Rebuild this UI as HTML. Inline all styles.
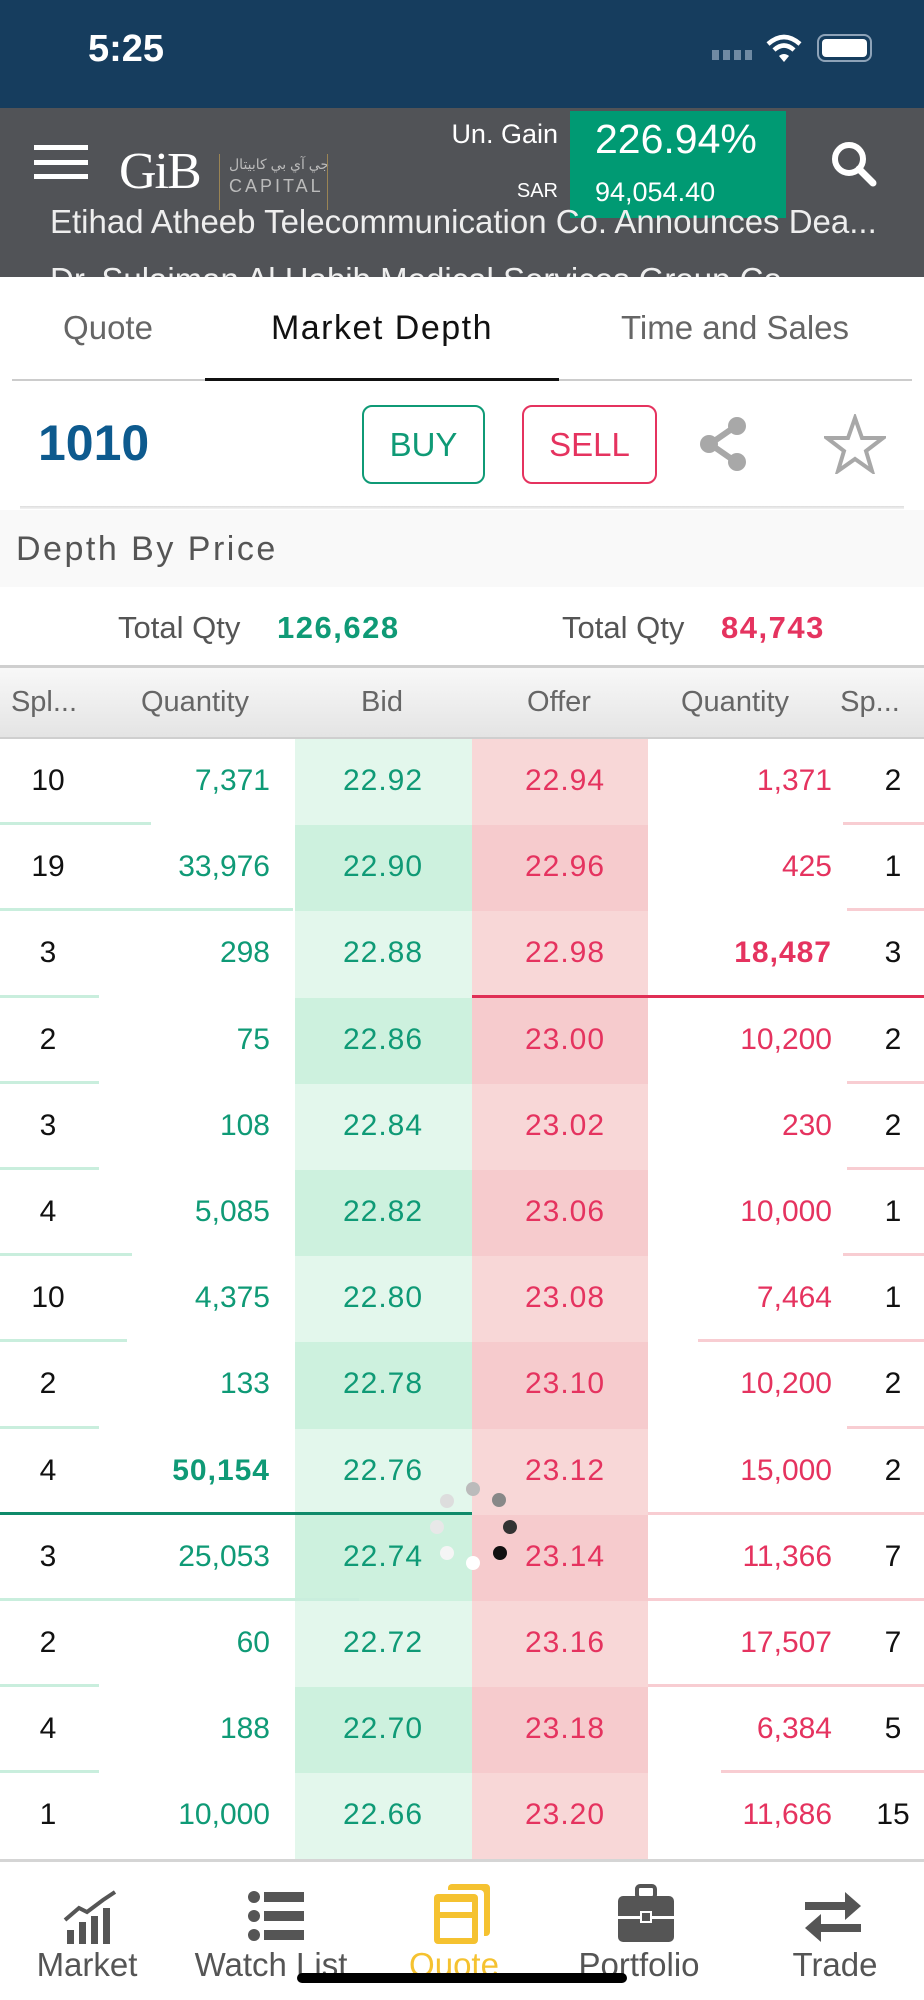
<!DOCTYPE html>
<html><head><meta charset="utf-8">
<style>
*{margin:0;padding:0;box-sizing:border-box}
body{width:924px;height:2000px;position:relative;overflow:hidden;background:#fff;font-family:"Liberation Sans","Noto Sans CJK SC",sans-serif}
.a{position:absolute}
.t{position:absolute;white-space:nowrap}
</style></head><body>
<div class="a" style="left:0;top:0;width:924px;height:108px;background:#163d5e">
  <div class="t" style="left:88px;top:28px;font-size:38px;font-weight:bold;color:#fff">5:25</div>
  <div class="a" style="left:712px;top:50px;width:42px;height:10px;background:repeating-linear-gradient(90deg,#6f8aa3 0 7px,transparent 7px 11px)"></div>
  <svg class="a" style="left:766px;top:34px" width="36" height="30" viewBox="0 0 36 30"><path d="M2 10 Q18 -4 34 10" stroke="#fff" stroke-width="4.5" fill="none"/><path d="M8 16 Q18 7 28 16" stroke="#fff" stroke-width="4.5" fill="none"/><path d="M13 22 L18 28 L23 22 Q18 18 13 22Z" fill="#fff"/></svg>
  <div class="a" style="left:817px;top:34px;width:55px;height:28px;border:2.5px solid #8ea3b8;border-radius:8px;padding:3px"><div style="width:100%;height:100%;background:#fff;border-radius:4px"></div></div>
</div>
<div class="a" style="left:0;top:108px;width:924px;height:169px;background:#515357;overflow:hidden">
  <div class="a" style="left:34px;top:37px;width:54px;height:34px;border-top:5px solid #fff;border-bottom:5px solid #fff"><div style="margin-top:10px;height:5px;background:#fff"></div></div>
  <div class="t" style="left:119px;top:34px;font-family:'Liberation Serif',serif;font-size:52px;color:#fff;letter-spacing:-2px">GiB</div>
  <div class="a" style="left:219px;top:46px;width:1px;height:56px;background:#9a8454"></div>
  <div class="t" style="left:229px;top:48px;font-size:14px;color:#bbb">جي آي بي كابيتال</div>
  <div class="t" style="left:229px;top:68px;font-size:18px;color:#bbb;letter-spacing:3px">CAPITAL</div>
  <div class="a" style="left:327px;top:46px;width:1px;height:56px;background:#9a8454"></div>
  <div class="t" style="right:366px;top:11px;font-size:27px;color:#fff">Un. Gain</div>
  <div class="t" style="right:366px;top:72px;font-size:20px;color:#fff">SAR</div>
  <div class="a" style="left:570px;top:3px;width:216px;height:107px;background:#009a73">
    <div class="t" style="left:25px;top:5px;font-size:41px;color:#fff">226.94%</div>
    <div class="t" style="left:25px;top:66px;font-size:27px;color:#fff">94,054.40</div>
  </div>
  <svg class="a" style="left:830px;top:32px" width="48" height="48" viewBox="0 0 48 48"><circle cx="19" cy="19" r="14" stroke="#fff" stroke-width="6" fill="none"/><line x1="29" y1="29" x2="43" y2="43" stroke="#fff" stroke-width="7" stroke-linecap="round"/></svg>
  <div class="t" style="left:50px;top:95px;font-size:33px;color:#eee">Etihad Atheeb Telecommunication Co. Announces Dea...</div>
  <div class="t" style="left:50px;top:153px;font-size:33px;color:#eee">Dr. Sulaiman Al Habib Medical Services Group Co...</div>
</div>
<div class="a" style="left:0;top:277px;width:924px;height:105px;background:#fff">
  <div class="t" style="left:108px;top:32px;transform:translateX(-50%);font-size:33px;color:#666">Quote</div>
  <div class="t" style="left:382px;top:32px;transform:translateX(-50%);font-size:34px;color:#111;letter-spacing:1.5px">Market Depth</div>
  <div class="t" style="left:735px;top:32px;transform:translateX(-50%);font-size:33px;color:#666">Time and Sales</div>
  <div class="a" style="left:12px;top:102px;width:900px;height:2px;background:#ccc"></div>
  <div class="a" style="left:205px;top:101px;width:354px;height:3px;background:#111"></div>
</div>
<div class="t" style="left:38px;top:414px;font-size:50px;font-weight:bold;color:#0d5a8e">1010</div>
<div class="a" style="left:362px;top:405px;width:123px;height:79px;border:2px solid #0f9a76;border-radius:10px;color:#0f9a76;font-size:33px;text-align:center;line-height:75px">BUY</div>
<div class="a" style="left:522px;top:405px;width:135px;height:79px;border:2px solid #e5335f;border-radius:10px;color:#e5335f;font-size:33px;text-align:center;line-height:75px">SELL</div>
<svg class="a" style="left:698px;top:416px" width="52" height="56" viewBox="0 0 52 56"><line x1="38" y1="10" x2="12" y2="28" stroke="#a8a8a8" stroke-width="6"/><line x1="12" y1="28" x2="38" y2="46" stroke="#a8a8a8" stroke-width="6"/><circle cx="39" cy="10" r="9" fill="#a8a8a8"/><circle cx="11" cy="28" r="9" fill="#a8a8a8"/><circle cx="39" cy="46" r="9" fill="#a8a8a8"/></svg>
<svg class="a" style="left:824px;top:414px" width="62" height="60" viewBox="0 0 62 60"><polygon points="31,4 38,24 59,24 42,37 48,57 31,45 14,57 20,37 3,24 24,24" fill="none" stroke="#a8a8a8" stroke-width="4"/></svg>
<div class="a" style="left:20px;top:506px;width:884px;height:3px;background:linear-gradient(#ddd,#f3f3f3)"></div>
<div class="a" style="left:0;top:510px;width:924px;height:77px;background:#f9f9f9">
  <div class="t" style="left:16px;top:20px;font-size:34px;color:#555;letter-spacing:2.5px">Depth By Price</div>
</div>
<div class="t" style="left:118px;top:610px;font-size:31px;color:#555">Total Qty</div>
<div class="t" style="left:277px;top:610px;font-size:31px;font-weight:bold;color:#0f9a76;letter-spacing:1.5px">126,628</div>
<div class="t" style="left:562px;top:610px;font-size:31px;color:#555">Total Qty</div>
<div class="t" style="left:721px;top:610px;font-size:31px;font-weight:bold;color:#e5335f;letter-spacing:1.5px">84,743</div>
<div class="a" style="left:0;top:665px;width:924px;height:74px;background:linear-gradient(#f8f8f8,#e4e4e4);border-top:3px solid #cfcfcf;border-bottom:2px solid #cfcfcf;font-size:29px;color:#666">
  <div class="t" style="left:44px;top:18px;transform:translateX(-50%)">Spl...</div>
  <div class="t" style="left:195px;top:18px;transform:translateX(-50%)">Quantity</div>
  <div class="t" style="left:382px;top:18px;transform:translateX(-50%)">Bid</div>
  <div class="t" style="left:559px;top:18px;transform:translateX(-50%)">Offer</div>
  <div class="t" style="left:735px;top:18px;transform:translateX(-50%)">Quantity</div>
  <div class="t" style="left:870px;top:18px;transform:translateX(-50%)">Sp...</div>
</div>
<div class="a" id="rows" style="left:0;top:739px;width:924px;height:1121px"></div>
<svg class="a" style="left:425px;top:1475px" width="100" height="100" viewBox="0 0 100 100">
<circle cx="48" cy="14" r="7" fill="#bbb"/><circle cx="74" cy="25" r="7" fill="#888"/><circle cx="85" cy="52" r="7" fill="#333"/><circle cx="75" cy="78" r="7" fill="#111"/><circle cx="48" cy="88" r="7" fill="#fff"/><circle cx="22" cy="78" r="7" fill="#f5f5f5"/><circle cx="12" cy="52" r="7" fill="#e8e8e8"/><circle cx="22" cy="26" r="7" fill="#ddd"/></svg>
<div class="a" style="left:0;top:1859px;width:924px;height:141px;background:#fff;border-top:3px solid #d5d5d5">
  <svg class="a" style="left:63px;top:28px" width="56" height="56" viewBox="0 0 56 56"><polyline points="2,30 16,18 24,22 40,10 52,2" fill="none" stroke="#555" stroke-width="4"/><rect x="4" y="40" width="7" height="14" fill="#555"/><rect x="16" y="32" width="7" height="22" fill="#555"/><rect x="28" y="26" width="7" height="28" fill="#555"/><rect x="40" y="18" width="7" height="36" fill="#555"/></svg>
  <div class="t" style="left:87px;top:84px;transform:translateX(-50%);font-size:33px;color:#555">Market</div>
  <svg class="a" style="left:248px;top:28px" width="58" height="52" viewBox="0 0 58 52"><circle cx="6" cy="7" r="6" fill="#555"/><circle cx="6" cy="26" r="6" fill="#555"/><circle cx="6" cy="45" r="6" fill="#555"/><rect x="16" y="2" width="40" height="10" fill="#555"/><rect x="16" y="21" width="40" height="10" fill="#555"/><rect x="16" y="40" width="40" height="10" fill="#555"/></svg>
  <div class="t" style="left:271px;top:84px;transform:translateX(-50%);font-size:33px;color:#555">Watch List</div>
  <svg class="a" style="left:432px;top:20px" width="60" height="64" viewBox="0 0 60 64"><rect x="16" y="2" width="42" height="52" rx="4" fill="#f5c230"/><rect x="10" y="8" width="42" height="52" rx="4" fill="#fff"/><rect x="2" y="12" width="44" height="50" rx="4" fill="#f5c230"/><rect x="8" y="20" width="32" height="10" fill="#fff"/><rect x="8" y="36" width="32" height="20" fill="#fff"/></svg>
  <div class="t" style="left:454px;top:84px;transform:translateX(-50%);font-size:33px;color:#f5c230">Quote</div>
  <svg class="a" style="left:617px;top:22px" width="58" height="60" viewBox="0 0 58 60"><rect x="20" y="2" width="18" height="12" rx="3" fill="none" stroke="#555" stroke-width="4"/><rect x="1" y="12" width="56" height="46" rx="5" fill="#555"/><rect x="1" y="32" width="56" height="3" fill="#fff"/><rect x="24" y="28" width="10" height="10" fill="#555" stroke="#fff" stroke-width="2"/></svg>
  <div class="t" style="left:639px;top:84px;transform:translateX(-50%);font-size:33px;color:#555">Portfolio</div>
  <svg class="a" style="left:803px;top:28px" width="60" height="54" viewBox="0 0 60 54"><rect x="2" y="12" width="44" height="8" fill="#555"/><polygon points="42,2 58,16 42,30" fill="#555"/><rect x="14" y="34" width="44" height="8" fill="#555"/><polygon points="18,24 2,38 18,52" fill="#555"/></svg>
  <div class="t" style="left:835px;top:84px;transform:translateX(-50%);font-size:33px;color:#555">Trade</div>
  <div class="a" style="left:297px;top:111px;width:330px;height:10px;border-radius:5px;background:#000"></div>
</div>
<script>
const bidSplits=[10,19,3,2,3,4,10,2,4,3,2,4,1];
const bidQty=["7,371","33,976","298","75","108","5,085","4,375","133","50,154","25,053","60","188","10,000"];
const bidPrice=["22.92","22.90","22.88","22.86","22.84","22.82","22.80","22.78","22.76","22.74","22.72","22.70","22.66"];
const askPrice=["22.94","22.96","22.98","23.00","23.02","23.06","23.08","23.10","23.12","23.14","23.16","23.18","23.20"];
const askQty=["1,371","425","18,487","10,200","230","10,000","7,464","10,200","15,000","11,366","17,507","6,384","11,686"];
const askSplits=[2,1,3,2,2,1,1,2,2,7,7,5,15];
const bidDepth=[0.32,0.62,0.21,0.21,0.21,0.28,0.27,0.21,1.0,0.76,0.21,0.21,0];
const askDepth=[0.18,0.17,1.0,0.17,0.17,0.18,0.50,0.17,0.61,0.61,0.61,0.45,0];
const boldBid=8, boldAsk=2;
const rows=document.getElementById('rows');
const RH=86.2, BIDW=472, ASKW=452;
const green="#0f9a76", red="#e5335f";
function cell(parent,name,css,text){const d=document.createElement('div');


d.className='t';d.style.cssText=css;d.textContent=text;parent.appendChild(d);return d;}
for(let i=0;i<bidPrice.length;i++){
  const r=document.createElement('div');
  
  
  r.className='a';r.style.cssText=`left:0;top:${i*RH}px;width:924px;height:${RH}px`;
  const odd=i%2===1;
  const bb=document.createElement('div');
  
  
  bb.className='a';bb.style.cssText=`left:295px;top:0;width:177px;height:${RH+1}px;background:${odd?'#cdf1de':'#e3f7ec'}`;r.appendChild(bb);
  const ob=document.createElement('div');
  
  
  ob.className='a';ob.style.cssText=`left:472px;top:0;width:176px;height:${RH+1}px;background:${odd?'#f6cbcd':'#f8d7d7'}`;r.appendChild(ob);
  if(bidDepth[i]>0){const l=document.createElement('div');
    
    
    const strong=i===boldBid;
    l.className='a';l.style.cssText=`left:0;top:${RH-3}px;width:${bidDepth[i]*BIDW}px;height:3px;background:${strong?'#0f8a6a':'#c9eedd'}`;r.appendChild(l);}
  if(askDepth[i]>0){const l=document.createElement('div');
    
    
    const strong=i===boldAsk;
    l.className='a';l.style.cssText=`right:0;top:${RH-3}px;width:${askDepth[i]*ASKW}px;height:3px;background:${strong?'#e02f55':'#f8cdd2'}`;r.appendChild(l);}
  const ty=25, fs='font-size:30px;';
  cell(r,'bid-splits',`${fs}left:48px;top:${ty}px;transform:translateX(-50%);color:#111`,bidSplits[i]);
  cell(r,'bid-quantity',`${fs}right:${924-270}px;top:${ty}px;color:${green};${i===boldBid?'font-weight:bold;letter-spacing:1px':''}`,bidQty[i]);
  cell(r,'bid-price',`${fs}left:383px;top:${ty}px;transform:translateX(-50%);color:${green};letter-spacing:1px`,bidPrice[i]);
  cell(r,'offer-price',`${fs}left:565px;top:${ty}px;transform:translateX(-50%);color:${red};letter-spacing:1px`,askPrice[i]);
  cell(r,'ask-quantity',`${fs}right:${924-832}px;top:${ty}px;color:${red};${i===boldAsk?'font-weight:bold;letter-spacing:1px':''}`,askQty[i]);
  cell(r,'ask-splits',`${fs}left:893px;top:${ty}px;transform:translateX(-50%);color:#111`,askSplits[i]);
  rows.appendChild(r);
}
</script>
</body></html>
